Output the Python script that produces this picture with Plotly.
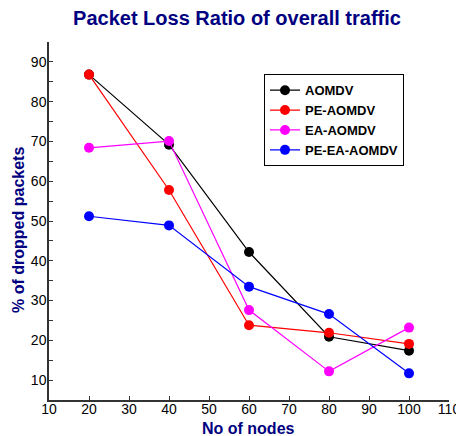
import plotly.graph_objects as go

nodes = [20, 40, 60, 80, 100]
aomdv = [86.8, 69.2, 42.2, 20.9, 17.4]
pe_aomdv = [86.8, 57.8, 23.8, 21.9, 19.1]
ea_aomdv = [68.4, 70.1, 27.6, 12.2, 23.2]
pe_ea_aomdv = [51.2, 48.9, 33.5, 26.6, 11.7]

series = [
    ("AOMDV", aomdv, "#000000"),
    ("PE-AOMDV", pe_aomdv, "#FF0000"),
    ("EA-AOMDV", ea_aomdv, "#FF00FF"),
    ("PE-EA-AOMDV", pe_ea_aomdv, "#0000FF"),
]

x_ticks = [10, 20, 30, 40, 50, 60, 70, 80, 90, 100, 110]
y_ticks = [10, 20, 30, 40, 50, 60, 70, 80, 90]

FONT = "Liberation Sans, Arial, sans-serif"
NAVY = "#000080"

fig = go.Figure()
for name, vals, col in series:
    fig.add_trace(go.Scatter(
        x=nodes, y=vals, name=name, mode="lines+markers",
        line=dict(color=col, width=1.2),
        marker=dict(color=col, size=10, symbol="circle"),
    ))

fig.update_layout(
    width=456, height=436,
    margin=dict(l=49, r=7, t=42, b=36),
    paper_bgcolor="white", plot_bgcolor="white",
    title=dict(text="<b>Packet Loss Ratio of overall traffic</b>",
               font=dict(family=FONT, size=20, color=NAVY),
               x=237/456, xanchor="center", xref="container",
               y=1 - 18/436, yanchor="middle", yref="container"),
    font=dict(family=FONT, size=14, color="#000000"),
    showlegend=True,
    legend=dict(x=0.5375, y=0.91, xanchor="left", yanchor="top",
                bordercolor="#000000", borderwidth=1, bgcolor="white",
                font=dict(family=FONT, size=13, color="#000000", weight="bold"),
                tracegroupgap=0, itemwidth=30),
    annotations=[
        dict(text="<b>% of dropped packets</b>", textangle=-90,
             xref="paper", yref="paper", x=-0.075, y=0.475,
             xanchor="center", yanchor="middle", showarrow=False,
             font=dict(family=FONT, size=16, color=NAVY)),
        dict(text="<b>No of nodes</b>",
             xref="paper", yref="paper", x=0.4975, y=-0.081,
             xanchor="center", yanchor="middle", showarrow=False,
             font=dict(family=FONT, size=16, color=NAVY)),
    ],
)

fig.update_xaxes(
    range=[10, 110], tickvals=x_ticks, ticktext=[str(v) for v in x_ticks],
    showgrid=False, zeroline=False, showline=True, linecolor="#333333", linewidth=1.5,
    ticks="inside", ticklen=4, tickcolor="#333333", ticklabeloverflow="allow",
    ticklabelstandoff=-5, automargin=False,
    tickfont=dict(family=FONT, size=14, color="#000000"),
)
fig.update_yaxes(
    range=[5, 95], tickvals=y_ticks, ticktext=[str(v) for v in y_ticks],
    showgrid=False, zeroline=False, showline=True, linecolor="#333333", linewidth=1.5,
    ticks="inside", ticklen=4, tickcolor="#333333", ticklabelstandoff=-2, automargin=False,
    minor=dict(ticks="inside", ticklen=4, tickcolor="#333333", dtick=5, tick0=5, showgrid=False),
    tickfont=dict(family=FONT, size=14, color="#000000"),
)

fig.write_html("out.html")
